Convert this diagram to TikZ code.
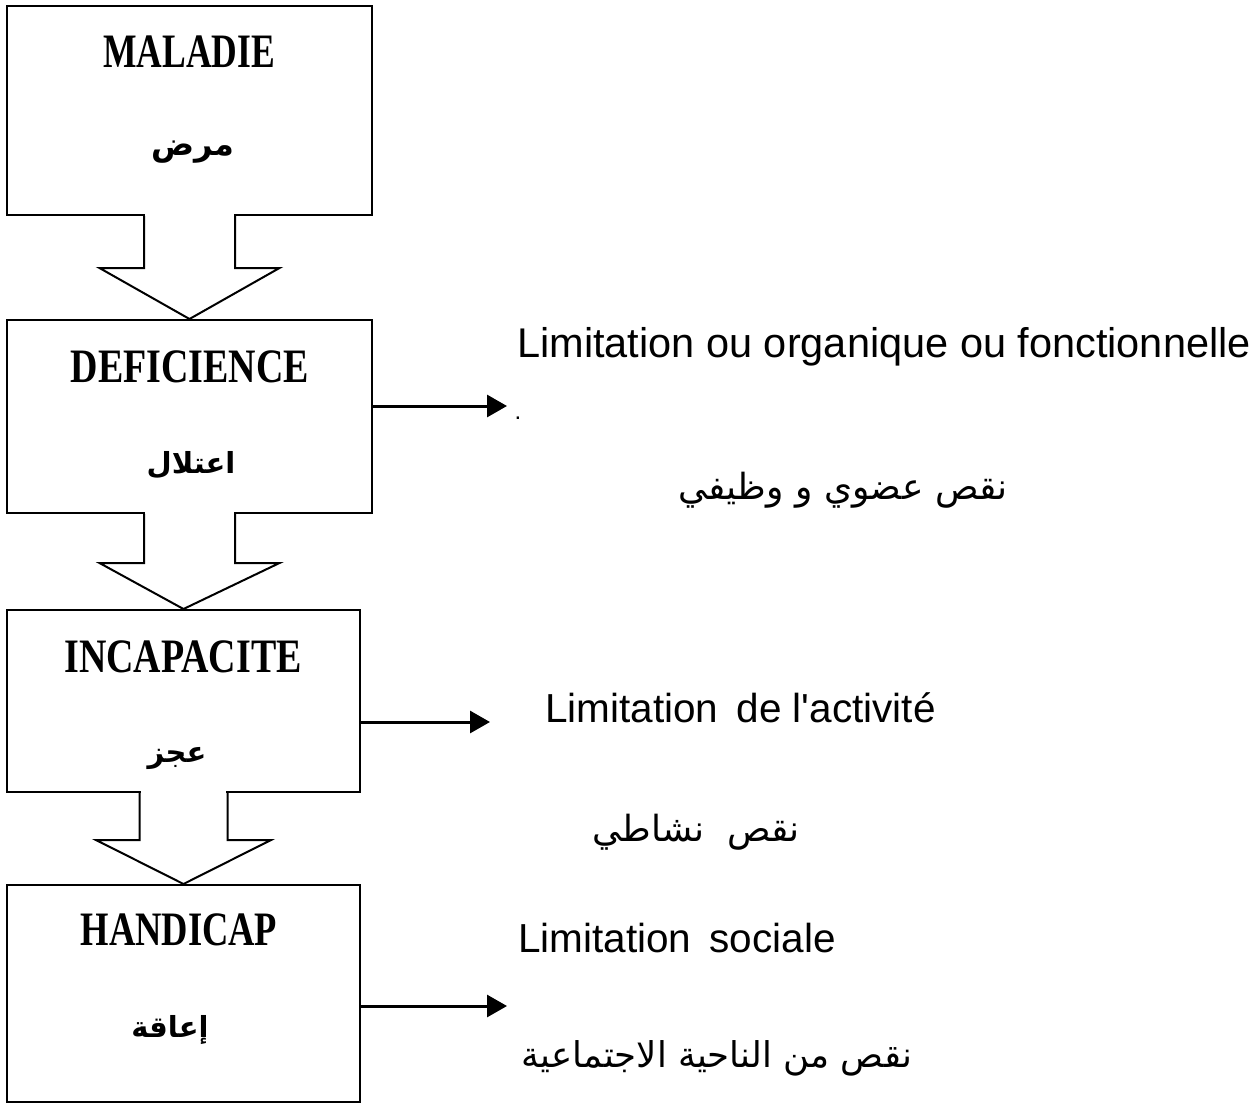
\documentclass[tikz,border=0pt]{standalone}
\usepackage{fontspec}
\usepackage{graphicx}
\setmainfont{Liberation Serif}
\newfontfamily\latinsans{Liberation Sans}
\newfontfamily\arabicfont[Script=Arabic]{DejaVu Sans}
\TeXXeTstate=1
\usetikzlibrary{calc,arrows.meta}
\tikzset{
  box/.style={draw, line width=2pt, inner sep=0pt, fill=white},
  boxtitle/.style={anchor=base, inner sep=0pt, font=\fontsize{48}{50}\selectfont\bfseries},
  boxarabic/.style={anchor=center, inner sep=0pt, font=\fontsize{29}{34}\arabicfont\bfseries},
  sidetext/.style={anchor=base west, inner sep=0pt, font=\fontsize{41.5}{44}\latinsans},
  sidearabic/.style={anchor=center, inner sep=0pt, font=\fontsize{36}{40}\arabicfont},
  blockarrow/.style={draw, line width=2pt, line join=miter, fill=white},
  sidearrow/.style={draw, line width=3pt, -{Triangle[length=20pt,width=22pt]}}
}
\newcommand\blkarrow[5]{% from, to, shaft half width, shaft length, head half width
  \fill[white] ($(#1.south)+(-#3+1.2,-1.6)$) rectangle ($(#1.south)+(#3-1.2,1)$);
  \draw[blockarrow] ($(#1.south)+(-#3,0)$) -- ++(0,#4) -- ($(#1.south)+(-#5,#4)$)
     -- (#2.north) -- ($(#1.south)+(#5,#4)$) -- ($(#1.south)+(#3,#4)$) -- ($(#1.south)+(#3,0)$);
}
\begin{document}
\begin{tikzpicture}[x=1pt,y=-1pt]
\useasboundingbox[fill=white] (0,0) rectangle (1256,1106);

% boxes
\node[box, minimum width=365pt, minimum height=209pt] (b1) at (189.5,110.5) {};
\node[box, minimum width=365pt, minimum height=193pt] (b2) at (189.5,416.5) {};
\node[box, minimum width=353pt, minimum height=182pt] (b3) at (183.5,701) {};
\node[box, minimum width=353pt, minimum height=217pt] (b4) at (183.5,993.5) {};

% block arrows
\blkarrow{b1}{b2}{45.5}{52}{90}
\blkarrow{b2}{b3}{45.5}{49}{90}
\blkarrow{b3}{b4}{44}{47}{87.5}

% box texts
\node[boxtitle] (t1) at (189,67) {\scalebox{0.74}[1]{MALADIE}};
\node[boxarabic, font=\fontsize{32}{36}\arabicfont\bfseries] (a1) at (193,152) {\beginR مرض\endR};
\node[boxtitle] (t2) at (190,382) {\scalebox{0.79}[1]{DEFICIENCE}};
\node[boxarabic] (a2) at (191,465) {\beginR اعتلال\endR};
\node[boxtitle] (t3) at (183,672) {\scalebox{0.79}[1]{INCAPACITE}};
\node[boxarabic] (a3) at (177,758) {\beginR عجز\endR};
\node[boxtitle] (t4) at (179,945) {\scalebox{0.76}[1]{HANDICAP}};
\node[boxarabic] (a4) at (170,1030) {\beginR إعاقة\endR};

% side arrows
\coordinate (e2) at (507,406);
\coordinate (e3) at (490,722);
\coordinate (e4) at (507,1006);
\draw[sidearrow] (b2.east |- e2) -- (e2);
\draw[sidearrow] (b3.east |- e3) -- (e3);
\draw[sidearrow] (b4.east |- e4) -- (e4);

% side texts
\node[sidetext] (s2) at (517,357) {Limitation ou organique ou fonctionnelle};
\node[anchor=base, inner sep=0pt, font=\fontsize{24}{26}\latinsans] (dot) at (518,419) {.};
\node[sidearabic] (r2) at (843,490) {\beginR نقص عضوي و وظيفي\endR};
\node[sidetext, font=\fontsize{40.5}{44}\latinsans] (s3) at (545,722) {Limitation\hspace{0.45em}de l'activité};
\node[sidearabic] (r3) at (696,832) {\beginR نقص\ \ نشاطي\endR};
\node[sidetext, font=\fontsize{40.5}{44}\latinsans] (s4) at (518,952) {Limitation\hspace{0.45em}sociale};
\node[sidearabic, font=\fontsize{35.5}{40}\arabicfont] (r4) at (717,1058) {\beginR نقص من الناحية الاجتماعية\endR};
\end{tikzpicture}
\end{document}
